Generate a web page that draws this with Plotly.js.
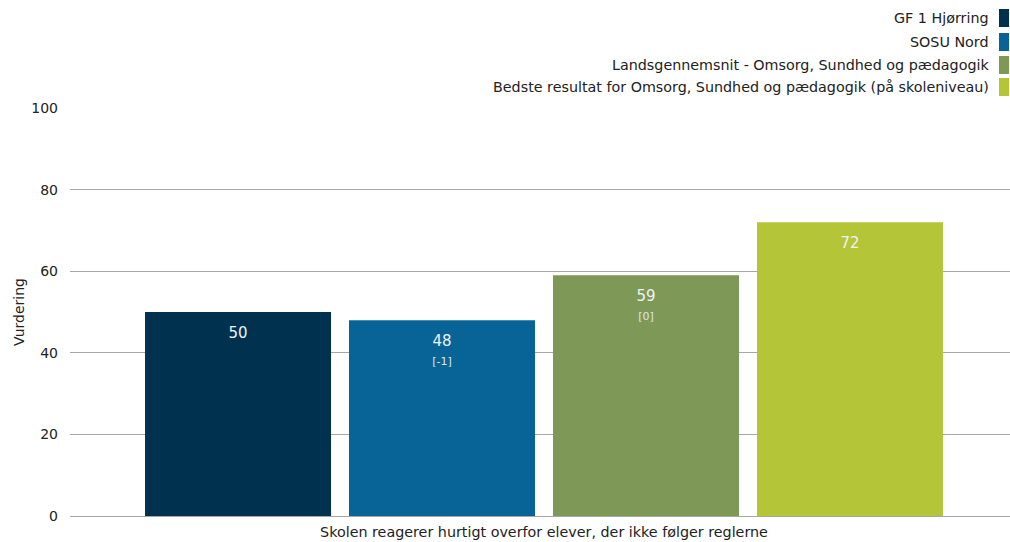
<!DOCTYPE html>
<html><head><meta charset="utf-8">
<script src="https://cdn.plot.ly/plotly-3.0.1.min.js"></script>
<style>body{margin:0;background:#fff}#c{width:1010px;height:542px}</style>
</head><body><div id="c"></div>
<script>
const category = "Skolen reagerer hurtigt overfor elever, der ikke følger reglerne";
const seriesNames = ["GF 1 Hjørring", "SOSU Nord", "Landsgennemsnit - Omsorg, Sundhed og pædagogik", "Bedste resultat for Omsorg, Sundhed og pædagogik (på skoleniveau)"];
const seriesValues = [50, 48, 59, 72];
const seriesDiffs = [null, "[-1]", "[0]", null];
const seriesColors = ["#00324f", "#086496", "#7e9957", "#b4c637"];
const yTicks = [0, 20, 40, 60, 80, 100];

const font = "DejaVu Sans, Verdana, sans-serif";
const traces = seriesNames.map((n, i) => ({
  type: "bar",
  name: n,
  x: [category],
  y: [seriesValues[i]],
  marker: {color: seriesColors[i]},
  text: ["<span style='font-size:3px'>&nbsp;</span><br>" + String(seriesValues[i]) +
         (seriesDiffs[i] ? "<br><span style='font-size:11px;fill:#dde6ec'>" + seriesDiffs[i] + "</span>" : "")],
  textposition: "inside",
  insidetextanchor: "end",
  textfont: {color: "#eef2f5", size: 15, family: font},
  hoverinfo: "none",
  showlegend: false
}));

const annotations = [];
const shapes = [];
const rowY = [18, 42, 65, 87];
seriesNames.forEach((n, i) => {
  annotations.push({
    xref: "paper", yref: "paper",
    x: (991 - 70) / 940, y: 1 - (rowY[i] - 108) / 408,
    xanchor: "right", yanchor: "middle",
    text: n, showarrow: false,
    font: {family: font, size: 14.3, color: "#222"}
  });
  shapes.push({
    type: "rect", xref: "paper", yref: "paper",
    x0: (999 - 70) / 940, x1: (1009 - 70) / 940,
    y0: 1 - (rowY[i] + 9 - 108) / 408, y1: 1 - (rowY[i] - 9 - 108) / 408,
    fillcolor: seriesColors[i], line: {width: 0}
  });
});

const layout = {
  width: 1010, height: 542,
  margin: {l: 70, r: 0, t: 108, b: 26},
  paper_bgcolor: "#fff", plot_bgcolor: "#fff",
  font: {family: font, size: 14, color: "#222"},
  barmode: "group",
  bargap: 0.132,
  bargroupgap: 0.088,
  xaxis: {
    range: [-0.50426, 0.49574],
    showgrid: false, showline: false, ticks: "",
    ticklabelstandoff: 6,
    tickfont: {size: 14.3, family: font, color: "#222"}
  },
  yaxis: {
    range: [0, 100], tickvals: yTicks, ticktext: yTicks.map(String),
    showgrid: true, gridcolor: "#a8a8a8", gridwidth: 1,
    zeroline: true, zerolinecolor: "#a8a8a8", zerolinewidth: 1,
    showline: false, ticks: "", ticklen: 0,
    ticklabelstandoff: 11,
    tickfont: {size: 14, family: font, color: "#222"},
    title: {text: "Vurdering", font: {size: 14, family: font, color: "#222"}, standoff: 3},
    fixedrange: true
  },
  annotations: annotations,
  shapes: shapes,
  showlegend: false
};
Plotly.newPlot("c", traces, layout, {displayModeBar: false, staticPlot: true});
</script></body></html>
